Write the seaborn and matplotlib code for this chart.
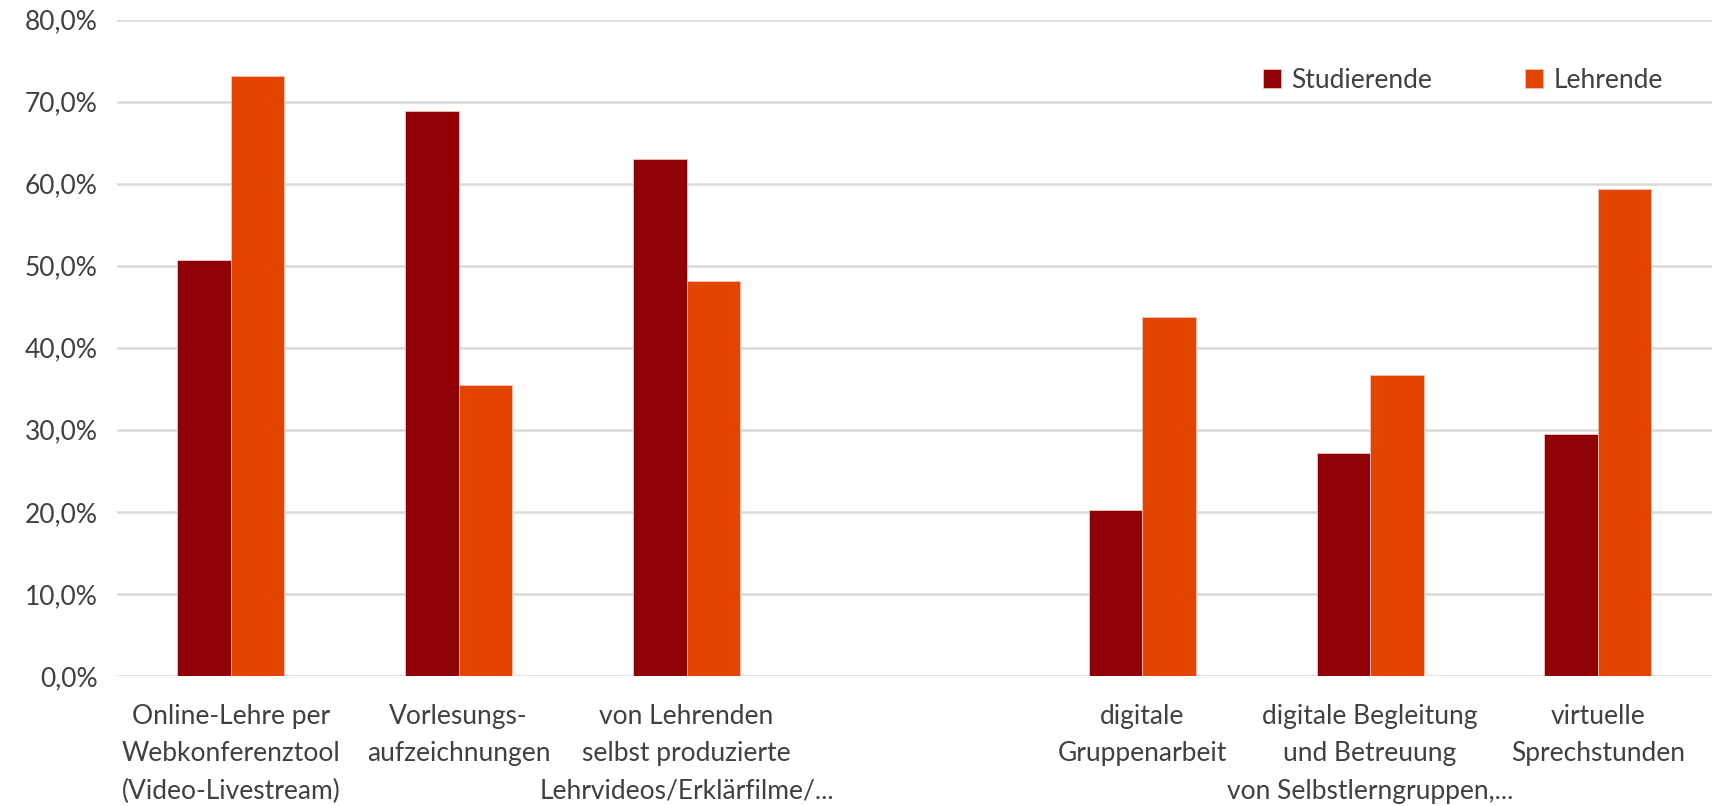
import pandas as pd
import matplotlib
matplotlib.use('Agg')
import matplotlib.pyplot as plt
from matplotlib.ticker import FuncFormatter
import seaborn as sns

# Kategorien (die leere Lücke in der Mitte ist Absicht)
categories = [
    'Online-Lehre per\nWebkonferenztool\n(Video-Livestream)',
    'Vorlesungs-\naufzeichnungen',
    'von Lehrenden\nselbst produzierte\nLehrvideos/Erklärfilme/...',
    ' ',
    'digitale\nGruppenarbeit',
    'digitale Begleitung\nund Betreuung\nvon Selbstlerngruppen,...',
    'virtuelle\nSprechstunden',
]
studierende = [50.7, 68.9, 63.0, None, 20.2, 27.2, 29.5]
lehrende = [73.1, 35.4, 48.1, None, 43.8, 36.7, 59.4]
groups = ['Studierende', 'Lehrende']
colors = ['#8F0007', '#E34400']

rows = []
for cat, s, l in zip(categories, studierende, lehrende):
    if s is not None:
        rows.append({'kategorie': cat, 'gruppe': 'Studierende', 'wert': s})
        rows.append({'kategorie': cat, 'gruppe': 'Lehrende', 'wert': l})
df = pd.DataFrame(rows)

sns.set_style('white')
plt.rcParams['font.family'] = ['Lato', 'DejaVu Sans']
text_color = '#404040'

fig = plt.figure(figsize=(17.17, 8.06), dpi=100)
ax = fig.add_axes([0.0681, 0.1613, 0.9289, 0.8145])

sns.barplot(data=df, x='kategorie', y='wert', hue='gruppe', order=categories,
            hue_order=groups, palette=colors, saturation=1, width=0.47, errorbar=None,
            edgecolor='#f2c4b8', linewidth=0.6, ax=ax)

ax.set_ylim(0, 80)
ax.set_yticks(range(0, 81, 10))
ax.yaxis.set_major_formatter(FuncFormatter(lambda v, p: f'{v:.1f}%'.replace('.', ',')))
ax.set_xlim(-0.5, len(categories) - 0.5)
ax.grid(axis='y', color='#D9D9D9', linewidth=1.8)
ax.set_axisbelow(True)
for s in ax.spines.values():
    s.set_visible(False)
ax.tick_params(axis='both', length=0, labelsize=19, colors=text_color)
ax.tick_params(axis='x', pad=20)
ax.tick_params(axis='y', pad=14)
for lbl in ax.get_xticklabels():
    lbl.set_linespacing(1.62)
ax.set_xlabel('')
ax.set_ylabel('')

ax.legend(loc='center', bbox_to_anchor=(0.852, 0.9007), bbox_transform=fig.transFigure,
          ncol=2, frameon=False, fontsize=19, handlelength=0.7, handleheight=0.7,
          handletextpad=0.4, columnspacing=3.5, labelcolor=text_color)

fig.savefig('out.png', dpi=100)
